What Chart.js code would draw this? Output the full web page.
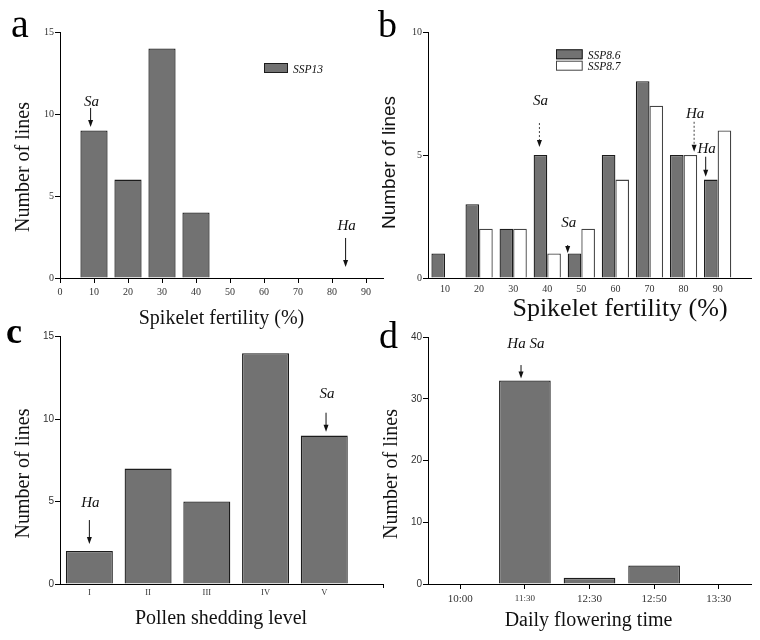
<!DOCTYPE html>
<html>
<head>
<meta charset="utf-8">
<title>Spikelet fertility, pollen shedding and flowering time</title>
<script src="https://cdn.jsdelivr.net/npm/chart.js@4.4.1/dist/chart.umd.min.js"></script>
<style>
    html, body { margin: 0; padding: 0; background: #fff; }
    #fig { position: relative; width: 760px; height: 640px; overflow: hidden; }
    #fig canvas { position: absolute; }
</style>
</head>
<body>
<div id="fig">
    <canvas id="chart-a" width="400" height="335" style="left:0;top:0"></canvas>
    <canvas id="chart-b" width="385" height="335" style="left:375px;top:0"></canvas>
    <canvas id="chart-c" width="400" height="320" style="left:0;top:320px"></canvas>
    <canvas id="chart-d" width="385" height="320" style="left:375px;top:320px"></canvas>
</div>
<script>
/* ---- data ---- */
var fertilityClasses = [10, 20, 30, 40, 50, 60, 70, 80, 90];
var fertilityTicksA = [0, 10, 20, 30, 40, 50, 60, 70, 80, 90];
var ssp13Lines = [9, 6, 14, 4, 0, 0, 0, 0, 0];
var ssp86Lines = [1, 3, 2, 5, 1, 5, 8, 5, 4];
var ssp87Lines = [0, 2, 2, 1, 2, 4, 7, 5, 6];
var pollenLevels = ['I', 'II', 'III', 'IV', 'V'];
var pollenLines = [2, 7, 5, 14, 9];
var floweringTimes = ['10:00', '11:30', '12:30', '12:50', '13:30'];
var floweringLines = [0, 33, 1, 3, 0];

/* arrows: x on the category axis, label/tail/tip in y units */
var marksA = [
    { text: 'Sa', x: 9, label: 10.49, tail: 10.37, tip: 9.2 },
    { text: 'Ha', x: 84, label: 2.93, tail: 2.44, tip: 0.67 }
];
var marksB = [
    { text: 'Sa', x: 37.7, label: 7.03, tail: 6.3, tip: 5.33, dashed: true },
    { text: 'Sa', x: 46, label: 2.07, tail: 1.34, tip: 1.02 },
    { text: 'Ha', x: 83.1, label: 6.5, tail: 6.35, tip: 5.13, dashed: true },
    { text: 'Ha', x: 86.5, label: 5.08, tail: 4.93, tip: 4.12 }
];
var marksC = [
    { text: 'Ha', x: 1, label: 4.67, tail: 3.88, tip: 2.43 },
    { text: 'Sa', x: 5.03, label: 11.28, tail: 10.39, tip: 9.24 }
];
var marksD = [
    { text: 'Ha Sa', x: 0.94, textX: 1, label: 38.25, tail: 35.5, tip: 33.34 }
];

var SERIF = "'Liberation Serif', 'DejaVu Serif', serif";
var SANS = "'Liberation Sans', Arial, sans-serif";
var BAR_FILL = '#727272';
var BAR_EDGE = '#1c1c1c';

Chart.defaults.font.family = SERIF;
Chart.defaults.color = '#222';
Chart.defaults.animation = false;

/* ---- arrow ---- */
function drawArrow(ctx, x, y0, y1, dashed) {
    ctx.save();
    ctx.strokeStyle = dashed ? '#444' : '#111';
    ctx.lineWidth = 1;
    if (dashed) ctx.setLineDash([2, 2]);
    ctx.beginPath();
    ctx.moveTo(x, y0);
    ctx.lineTo(x, y1 - 5);
    ctx.stroke();
    ctx.setLineDash([]);
    ctx.fillStyle = '#111';
    ctx.beginPath();
    ctx.moveTo(x - 2.5, y1 - 7);
    ctx.lineTo(x + 2.5, y1 - 7);
    ctx.lineTo(x, y1);
    ctx.closePath();
    ctx.fill();
    ctx.restore();
}

/* ---- letters, axis titles, arrows, inset legend ---- */
function makeNotes(cfg) {
    return {
        id: 'figNotes',
        afterDraw: function(chart) {
            var ctx = chart.ctx;
            var xs = chart.scales.x, ys = chart.scales.y;
            var area = chart.chartArea;
            ctx.save();

            ctx.fillStyle = '#000';
            ctx.font = cfg.letter.font;
            ctx.textAlign = 'left';
            ctx.textBaseline = 'alphabetic';
            ctx.fillText(cfg.letter.text, cfg.letter.x, cfg.letter.y);

            ctx.fillStyle = '#111';
            ctx.textAlign = 'center';
            ctx.textBaseline = 'middle';
            ctx.font = cfg.xTitle.font;
            ctx.fillText(cfg.xTitle.text, cfg.xTitle.x, cfg.xTitle.y);
            ctx.save();
            ctx.translate(cfg.yTitle.x, cfg.yTitle.y);
            ctx.rotate(-Math.PI / 2);
            ctx.font = cfg.yTitle.font;
            ctx.fillText(cfg.yTitle.text, 0, 0);
            ctx.restore();

            ctx.font = 'italic 15px ' + SERIF;
            ctx.textBaseline = 'alphabetic';
            cfg.marks.forEach(function(m) {
                var px = xs.getPixelForValue(m.x);
                var tx = xs.getPixelForValue(m.textX != null ? m.textX : m.x);
                ctx.fillStyle = '#111';
                ctx.fillText(m.text, tx + 1, ys.getPixelForValue(m.label));
                drawArrow(ctx, px, ys.getPixelForValue(m.tail), ys.getPixelForValue(m.tip), m.dashed);
            });

            if (cfg.legend) {
                var lx = area.left + cfg.legend.dx, ly = area.top + cfg.legend.dy;
                ctx.font = 'italic 11.5px ' + SERIF;
                ctx.textAlign = 'left';
                chart.data.datasets.forEach(function(ds, i) {
                    var y = ly + i * 11.4;
                    ctx.fillStyle = ds.backgroundColor;
                    ctx.fillRect(lx, y, cfg.legend.w, 10);
                    ctx.strokeStyle = ds.borderColor;
                    ctx.lineWidth = 1;
                    ctx.strokeRect(lx + 0.5, y + 0.5, cfg.legend.w - 1, 9);
                    ctx.fillStyle = '#111';
                    ctx.fillText(ds.label, lx + cfg.legend.w + 5, y + 9.5);
                });
            }
            ctx.restore();
        }
    };
}

function yAxis(max, step, width, family) {
    return {
        min: 0,
        max: max,
        ticks: { stepSize: step, padding: 1, color: '#333', font: { family: family, size: 10 } },
        grid: { drawOnChartArea: false, drawTicks: true, tickLength: 5, color: '#000' },
        border: { display: true, color: '#000', width: 1 },
        afterFit: function(s) { s.width = width; }
    };
}

function barSet(label, values, xs, fill, edge) {
    return {
        label: label,
        data: values.map(function(v, i) { return xs ? { x: xs[i], y: v } : v; }),
        backgroundColor: fill,
        borderColor: edge,
        borderWidth: 1.3
    };
}

/* ---- a ---- */
new Chart(document.getElementById('chart-a'), {
    type: 'bar',
    data: { datasets: [barSet('SSP13', ssp13Lines, fertilityClasses, BAR_FILL, BAR_EDGE)] },
    options: {
        responsive: false,
        layout: { padding: { top: 32, right: 17, left: 0, bottom: 0 } },
        datasets: { bar: { barPercentage: 0.8, categoryPercentage: 1 } },
        plugins: { legend: { display: false }, tooltip: { enabled: false } },
        scales: {
            x: {
                type: 'linear', min: 0, max: 95, offset: false,
                afterBuildTicks: function(s) { s.ticks = fertilityTicksA.map(function(v) { return { value: v }; }); },
                ticks: { padding: 3, autoSkip: false, maxRotation: 0, color: '#333', font: { size: 10 } },
                grid: { offset: false, drawOnChartArea: false, tickLength: 5, color: '#000' },
                border: { color: '#000' },
                afterFit: function(s) { s.height = 57; }
            },
            y: yAxis(15, 5, 60, SERIF)
        }
    },
    plugins: [makeNotes({
        letter: { text: 'a', x: 11, y: 37, font: '40px ' + SERIF },
        xTitle: { text: 'Spikelet fertility (%)', x: 221.5, y: 319, font: '20px ' + SERIF },
        yTitle: { text: 'Number of lines', x: 24, y: 167, font: '20px ' + SERIF },
        marks: marksA,
        legend: { dx: 204, dy: 31, w: 24 }
    })]
});

/* ---- b ---- */
new Chart(document.getElementById('chart-b'), {
    type: 'bar',
    data: {
        datasets: [
            barSet('SSP8.6', ssp86Lines, fertilityClasses, BAR_FILL, BAR_EDGE),
            barSet('SSP8.7', ssp87Lines, fertilityClasses, '#ffffff', '#444444')
        ]
    },
    options: {
        responsive: false,
        layout: { padding: { top: 32, right: 8.3, left: 0, bottom: 0 } },
        datasets: { bar: { barPercentage: 1, categoryPercentage: 0.8 } },
        plugins: { legend: { display: false }, tooltip: { enabled: false } },
        scales: {
            x: {
                type: 'linear', min: 5, max: 100, offset: false,
                afterBuildTicks: function(s) { s.ticks = fertilityClasses.map(function(v) { return { value: v }; }); },
                ticks: { padding: 5, autoSkip: false, maxRotation: 0, color: '#333', font: { size: 10 } },
                grid: { offset: false, drawOnChartArea: false, drawTicks: false },
                border: { color: '#000' },
                afterFit: function(s) { s.height = 57; }
            },
            y: yAxis(10, 5, 53, SERIF)
        }
    },
    plugins: [makeNotes({
        letter: { text: 'b', x: 3, y: 37, font: '38px ' + SERIF },
        xTitle: { text: 'Spikelet fertility (%)', x: 245, y: 309, font: '26px ' + SERIF },
        yTitle: { text: 'Number of lines', x: 15, y: 162.5, font: '19px ' + SANS },
        marks: marksB,
        legend: { dx: 128, dy: 17.3, w: 26.7 }
    })]
});

/* ---- c ---- */
new Chart(document.getElementById('chart-c'), {
    type: 'bar',
    data: { datasets: [barSet('Pollen', pollenLines, [1, 2, 3, 4, 5], BAR_FILL, BAR_EDGE)] },
    options: {
        responsive: false,
        layout: { padding: { top: 16.7, right: 17, left: 0, bottom: 0 } },
        datasets: { bar: { barPercentage: 0.8, categoryPercentage: 1 } },
        plugins: { legend: { display: false }, tooltip: { enabled: false } },
        scales: {
            x: {
                type: 'linear', min: 0.5, max: 6, offset: false,
                afterBuildTicks: function(s) {
                    s.ticks = pollenLevels.concat(['']).map(function(v, i) { return { value: i + 1 }; });
                },
                ticks: {
                    padding: 0, autoSkip: false, maxRotation: 0, color: '#333', font: { size: 8.5 },
                    callback: function(v) { return pollenLevels[v - 1] || ''; }
                },
                grid: {
                    offset: false, drawOnChartArea: false, tickLength: 4,
                    color: function(c) { return c.tick && c.tick.value === 6 ? '#000' : 'rgba(0,0,0,0)'; }
                },
                border: { color: '#000' },
                afterFit: function(s) { s.height = 56; }
            },
            y: yAxis(15, 5, 60, SANS)
        }
    },
    plugins: [makeNotes({
        letter: { text: 'c', x: 6, y: 23, font: 'bold 36px ' + SERIF },
        xTitle: { text: 'Pollen shedding level', x: 221, y: 298.5, font: '20px ' + SERIF },
        yTitle: { text: 'Number of lines', x: 24, y: 153.5, font: '20px ' + SERIF },
        marks: marksC
    })]
});

/* ---- d ---- */
new Chart(document.getElementById('chart-d'), {
    type: 'bar',
    data: { labels: floweringTimes, datasets: [barSet('Flowering', floweringLines, null, BAR_FILL, BAR_EDGE)] },
    options: {
        responsive: false,
        layout: { padding: { top: 17.3, right: 9, left: 0, bottom: 0 } },
        datasets: { bar: { barPercentage: 1, categoryPercentage: 0.8 } },
        plugins: { legend: { display: false }, tooltip: { enabled: false } },
        scales: {
            x: {
                type: 'category', offset: true,
                ticks: {
                    padding: 4, autoSkip: false, maxRotation: 0, color: '#333',
                    font: function(c) { return { size: c.index === 1 ? 9 : 11 }; }
                },
                grid: { offset: false, drawOnChartArea: false, tickLength: 5, color: '#000' },
                border: { color: '#000' },
                afterFit: function(s) { s.height = 56; }
            },
            y: yAxis(40, 10, 53, SANS)
        }
    },
    plugins: [makeNotes({
        letter: { text: 'd', x: 4, y: 28, font: '38px ' + SERIF },
        xTitle: { text: 'Daily flowering time', x: 213.5, y: 301, font: '20px ' + SERIF },
        yTitle: { text: 'Number of lines', x: 17, y: 154, font: '20px ' + SERIF },
        marks: marksD
    })]
});
</script>
</body>
</html>
